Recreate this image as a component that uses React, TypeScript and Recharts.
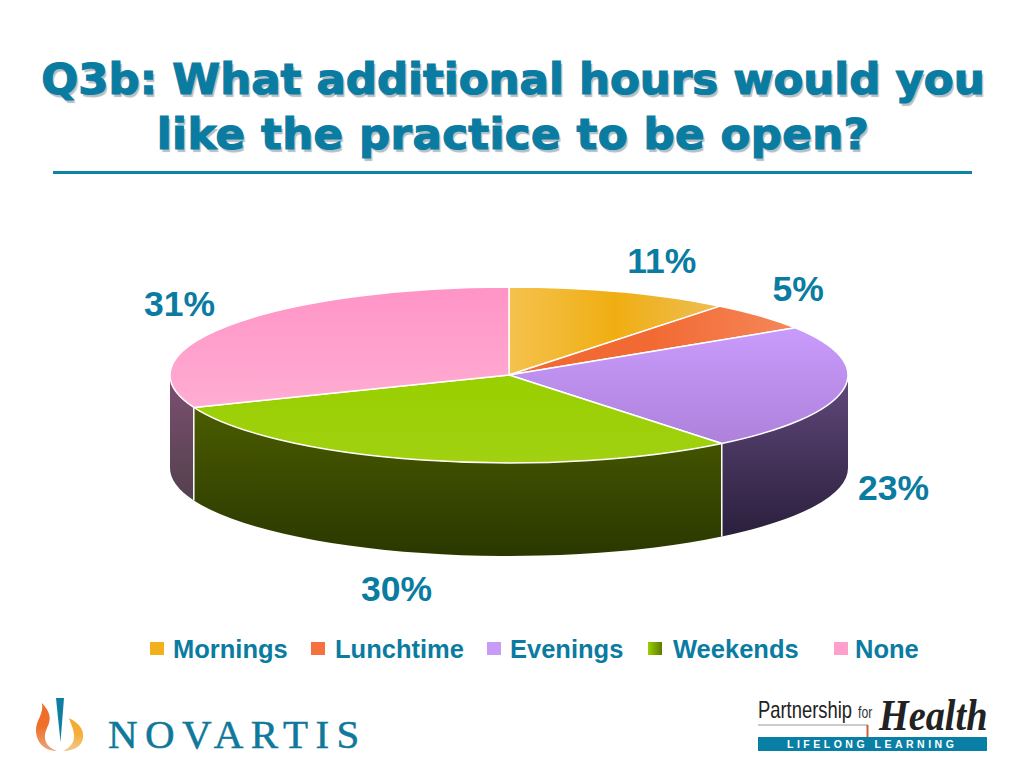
import { Pie, PieChart, Legend } from "recharts";

const CATEGORIES = ["Mornings", "Lunchtime", "Evenings", "Weekends", "None"];
// shares, the printed labels are these rounded
const SHARES = [10.7, 5.3, 23.2, 29.8, 31.0];
const LEGEND_SWATCHES = [
  "#F2B01E",
  "#F5713F",
  "#C99BF8",
  "linear-gradient(to right, #9AD000, #5E7A00)",
  "#FF9FCB",
];

const BLUE = "#0A7BA1";
const CX = 509;
const CY = 375;
const RX = 339;
const RY = 88;
const DEPTH = 93;
const SANS = "'Liberation Sans', Arial, sans-serif";

const LABEL_NUDGE = [
  [41, -31],
  [37, -27],
  [50, 99],
  [-26, 129],
  [-49, -22],
];
const LEGEND_X = [150, 311, 487, 648, 834];
const LEGEND_TEXT_X = [173, 335, 510, 673, 855];

const pieData = CATEGORIES.map((name, i) => ({
  name,
  value: SHARES[i],
  face: `url(#face${i})`,
  wall: `url(#wall${i})`,
}));

const pt = (deg: number) => {
  const r = (deg * Math.PI) / 180;
  return [CX + RX * Math.cos(r), CY - RY * Math.sin(r)];
};

// squashes the circular sector recharts hands us into a disc with a side wall
function DiscSlice(props: any) {
  const { startAngle: s, endAngle: e } = props;
  const entry = props.payload ?? props;
  const [x1, y1] = pt(s);
  const [x2, y2] = pt(e);
  const large = s - e > 180 ? 1 : 0;
  const top = `M${CX},${CY} L${x1},${y1} A${RX},${RY} 0 ${large} 1 ${x2},${y2} Z`;

  // only the part of the arc on the front half has a visible wall
  const a1 = Math.min(s, 0);
  const a2 = Math.max(e, -180);
  let wall = null;
  if (a1 > a2) {
    const [wx1, wy1] = pt(a1);
    const [wx2, wy2] = pt(a2);
    const d = `M${wx1},${wy1} A${RX},${RY} 0 0 1 ${wx2},${wy2} L${wx2},${wy2 + DEPTH} A${RX},${RY} 0 0 0 ${wx1},${wy1 + DEPTH} Z`;
    wall = (
      <g>
        <path d={d} fill={entry.wall} />
        {s < 0 && s > -180 && (
          <line x1={wx1} y1={wy1} x2={wx1} y2={wy1 + DEPTH} stroke="#fff" strokeWidth={1.5} />
        )}
      </g>
    );
  }
  return (
    <g>
      {wall}
      <path d={top} fill={entry.face} stroke="#fff" strokeWidth={1.5} strokeLinejoin="round" />
    </g>
  );
}

function SliceLabel(props: any) {
  const { midAngle, index, value } = props;
  const [x, y] = pt(midAngle);
  const [dx, dy] = LABEL_NUDGE[index];
  return (
    <text
      x={x + dx}
      y={y + dy}
      textAnchor="middle"
      dominantBaseline="central"
      fill={BLUE}
      fontFamily={SANS}
      fontWeight="bold"
      fontSize={35.5}
    >
      {Math.round(value)}%
    </text>
  );
}

function LegendRow(props: any) {
  const items = props.payload ?? [];
  return (
    <div style={{ position: "relative", width: 1024, height: 768 }}>
      {items.map((item: any, i: number) => (
        <div key={item.value}>
          <span
            style={{
              position: "absolute",
              left: LEGEND_X[i],
              top: 642,
              width: 14,
              height: 13,
              background: LEGEND_SWATCHES[i],
            }}
          />
          <span
            style={{
              position: "absolute",
              left: LEGEND_TEXT_X[i],
              top: 635,
              lineHeight: "29px",
              fontFamily: SANS,
              fontWeight: "bold",
              fontSize: 25.5,
              color: BLUE,
              whiteSpace: "nowrap",
            }}
          >
            {item.value}
          </span>
        </div>
      ))}
    </div>
  );
}

function grad(id: string, stops: string[], horizontal = false) {
  return (
    <linearGradient id={id} x1="0" y1="0" x2={horizontal ? "1" : "0"} y2={horizontal ? "0" : "1"}>
      {stops.map((c, i) => (
        <stop key={i} offset={i / (stops.length - 1)} stopColor={c} />
      ))}
    </linearGradient>
  );
}

function Title() {
  return (
    <div
      style={{
        position: "absolute",
        left: 1,
        top: 52,
        width: 1024,
        textAlign: "center",
        fontFamily: "'DejaVu Sans', Verdana, sans-serif",
        fontWeight: "bold",
        fontSize: 43.5,
        lineHeight: "55px",
        color: BLUE,
        textShadow: "2px 3px 1px #B4BEC4",
        WebkitTextStroke: `1.2px ${BLUE}`,
      }}
    >
      Q3b: What additional hours would you
      <br />
      <span style={{ letterSpacing: 0.4 }}>like the practice to be open?</span>
    </div>
  );
}

function NovartisLogo() {
  return (
    <svg width={400} height={88} style={{ position: "absolute", left: 0, top: 680 }}>
      <defs>
        {grad("flameL", ["#EF6B2A", "#F0702B", "#E9A878"])}
        {grad("flameR", ["#F3A72D", "#F5B03A", "#F0C890"])}
      </defs>
      <path d="M56,18 L64,18 L60.5,62 Z" fill="#0E7FA3" />
      <path d="M42,23 C50,32 52,38 47,48 C43,57 44,66 57,71 C44,71 36,62 36,50 C36,40 44,34 42,23 Z" fill="url(#flameL)" />
      <path d="M69,38 C80,44 84,50 83,58 C82,66 74,71 63,71 C71,67 75,62 74,54 C73,48 71,44 69,38 Z" fill="url(#flameR)" />
      <text x={108} y={68} fontFamily="'Liberation Serif', serif" fontSize={41} letterSpacing={7.4} fill="#10789B" stroke="#10789B" strokeWidth={0.5}>
        NOVARTIS
      </text>
    </svg>
  );
}

function PartnershipLogo() {
  return (
    <svg width={284} height={88} style={{ position: "absolute", left: 740, top: 680 }}>
      <text transform="translate(18,38) scale(0.8,1)" fontFamily={SANS} fontSize={23} fill="#222">
        Partnership
      </text>
      <text transform="translate(118,38) scale(0.72,1)" fontFamily={SANS} fontSize={17} fill="#333">
        for
      </text>
      <text transform="translate(139,50) scale(0.87,1)" fontFamily="'Liberation Serif', serif" fontStyle="italic" fontWeight="bold" fontSize={44} fill="#222">
        Health
      </text>
      <line x1={18} y1={45} x2={128} y2={45} stroke="#999" strokeWidth={1} />
      <line x1={127.5} y1={45} x2={127.5} y2={57} stroke="#D0603A" strokeWidth={2} />
      <rect x={18} y={57} width={229} height={14} fill="#0A7FA5" />
      <text x={47} y={68} fontFamily={SANS} fontWeight="bold" fontSize={10.5} letterSpacing={3.5} fill="#fff">
        LIFELONG LEARNING
      </text>
    </svg>
  );
}

export default function App() {
  return (
    <div style={{ position: "absolute", left: 0, top: 0, width: 1024, height: 768, background: "#fff", overflow: "hidden" }}>
      <PieChart width={1024} height={768} margin={{ top: 0, right: 0, bottom: 0, left: 0 }}>
        <defs>
          {grad("face0", ["#F4C24E", "#F0AE12", "#EDBE55"], true)}
          {grad("face1", ["#F26A33", "#F26A33", "#F5875A"], true)}
          {grad("face2", ["#C99BFC", "#AD81DB"])}
          {grad("face3", ["#99CF00", "#A1D111"])}
          {grad("face4", ["#FF94C6", "#FFADD3"])}
          {grad("wall0", ["#6E5A20", "#3A3010"])}
          {grad("wall1", ["#6E3A20", "#3A2010"])}
          {grad("wall2", ["#62497C", "#2A1F3C"])}
          {grad("wall3", ["#4B5C00", "#2A3800"])}
          {grad("wall4", ["#7C5070", "#54404E"])}
        </defs>
        <Pie
          data={pieData}
          dataKey="value"
          nameKey="name"
          cx={CX}
          cy={CY}
          innerRadius={0}
          outerRadius={RX}
          startAngle={90}
          endAngle={-270}
          paddingAngle={0}
          shape={DiscSlice}
          label={SliceLabel}
          labelLine={false}
          isAnimationActive={false}
        />
        <Legend
          content={LegendRow}
          itemSorter={null}
          wrapperStyle={{ position: "absolute", left: 0, top: 0, width: 1024, height: 768 }}
        />
      </PieChart>
      <Title />
      <div style={{ position: "absolute", left: 53, top: 171, width: 919, height: 2.5, background: "#0B84A8" }} />
      <NovartisLogo />
      <PartnershipLogo />
    </div>
  );
}
